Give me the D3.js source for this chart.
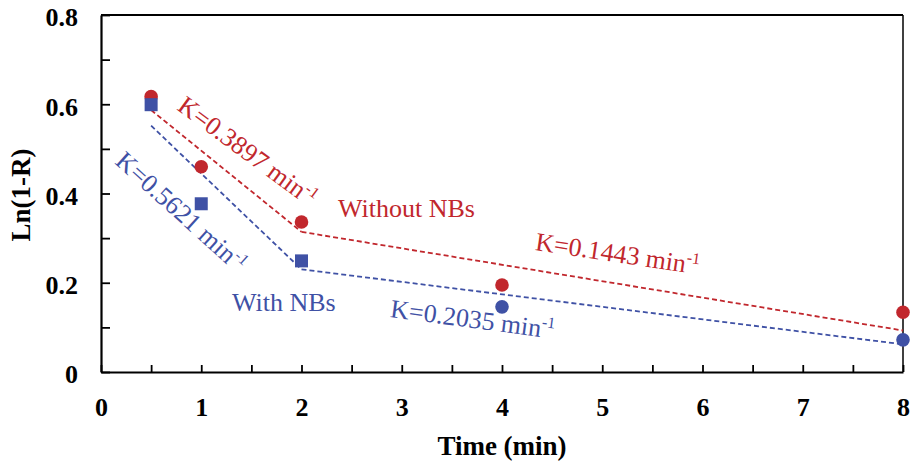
<!DOCTYPE html>
<html>
<head>
<meta charset="utf-8">
<script src="https://cdn.jsdelivr.net/npm/d3@7"></script>
<style>
  html, body { margin: 0; padding: 0; background: #fff; }
  svg { display: block; }
</style>
</head>
<body>
<svg id="chart" width="912" height="465"></svg>
<script>
// ---- data ----
const times = [0.5, 1, 2, 4, 8];
const withoutNBs = [0.617, 0.460, 0.336, 0.195, 0.134];
const withNBs = [0.599, 0.377, 0.249, 0.146, 0.072];
const withNBsShapes = ["square", "square", "square", "circle", "circle"];

const redFit1 = [[0.5, 0.587], [2, 0.314]];
const redFit2 = [[2, 0.314], [8, 0.093]];
const blueFit1 = [[0.5, 0.552], [2, 0.230]];
const blueFit2 = [[2, 0.230], [8, 0.062]];

const xTickValues = [0, 0.5, 1, 1.5, 2, 2.5, 3, 3.5, 4, 4.5, 5, 5.5, 6, 6.5, 7, 7.5, 8];
const xTickLabels = ["0", "1", "2", "3", "4", "5", "6", "7", "8"];
const yTickValues = [0, 0.1, 0.2, 0.3, 0.4, 0.5, 0.6, 0.7, 0.8];
const yTickLabels = ["0", "0.2", "0.4", "0.6", "0.8"];

const RED = "#C1272D";
const BLUE = "#3F51A5";

// ---- layout ----
const svg = d3.select("#chart");
const m = { left: 101, right: 903, top: 15, bottom: 372 };
const x = d3.scaleLinear().domain([0, 8]).range([m.left, m.right]);
const y = d3.scaleLinear().domain([0, 0.8]).range([m.bottom, m.top]);

// frame (top, right)
svg.append("line").attr("x1", m.left).attr("x2", m.right).attr("y1", m.top).attr("y2", m.top)
  .attr("stroke", "#000").attr("stroke-width", 2);
svg.append("line").attr("x1", m.right).attr("x2", m.right).attr("y1", m.top).attr("y2", m.bottom)
  .attr("stroke", "#000").attr("stroke-width", 1.5);

// axes
const fmtX = d => Number.isInteger(d) ? xTickLabels[d] : "";
const fmtY = d => {
  const i = Math.round(d * 10);
  return i % 2 === 0 ? yTickLabels[i / 2] : "";
};

const xAxis = svg.append("g").attr("transform", `translate(0,${m.bottom})`)
  .call(d3.axisBottom(x).tickValues(xTickValues).tickFormat(fmtX)
    .tickSizeInner(-7).tickSizeOuter(0).tickPadding(26));
const yAxis = svg.append("g").attr("transform", `translate(${m.left},0)`)
  .call(d3.axisLeft(y).tickValues(yTickValues).tickFormat(fmtY)
    .tickSizeInner(-9).tickSizeOuter(0).tickPadding(23));

[xAxis, yAxis].forEach(g => {
  g.select(".domain").attr("stroke", "#000").attr("stroke-width", 2.2);
  g.selectAll(".tick line").attr("stroke", "#000").attr("stroke-width", 1.8);
  g.selectAll(".tick text")
    .attr("font-family", "'Liberation Serif', 'Times New Roman', serif")
    .attr("font-weight", "bold").attr("font-size", 26).attr("fill", "#000");
});
yAxis.selectAll(".tick text").attr("dy", "0.42em");

// axis titles
svg.append("text").attr("x", (m.left + m.right) / 2).attr("y", 455)
  .attr("text-anchor", "middle")
  .attr("font-family", "'Liberation Serif', 'Times New Roman', serif")
  .attr("font-weight", "bold").attr("font-size", 27).text("Time (min)");
svg.append("text").attr("transform", "translate(30,195) rotate(-90)")
  .attr("text-anchor", "middle")
  .attr("font-family", "'Liberation Serif', 'Times New Roman', serif")
  .attr("font-weight", "bold").attr("font-size", 27).text("Ln(1-R)");

// fit lines
const line = d3.line().x(d => x(d[0])).y(d => y(d[1]));
[[redFit1, RED], [redFit2, RED], [blueFit1, BLUE], [blueFit2, BLUE]].forEach(([pts, c]) => {
  svg.append("path").attr("d", line(pts)).attr("fill", "none")
    .attr("stroke", c).attr("stroke-width", 1.8).attr("stroke-dasharray", "5,3");
});

// markers: red first, then blue on top
svg.append("g").selectAll("circle").data(times.map((t, i) => [t, withoutNBs[i]]))
  .join("circle").attr("cx", d => x(d[0])).attr("cy", d => y(d[1])).attr("r", 6.8).attr("fill", RED);

const blueData = times.map((t, i) => ({ t, v: withNBs[i], s: withNBsShapes[i] }));
const gB = svg.append("g");
gB.selectAll("rect").data(blueData.filter(d => d.s === "square")).join("rect")
  .attr("x", d => x(d.t) - 6.5).attr("y", d => y(d.v) - 6.5)
  .attr("width", 13).attr("height", 13).attr("fill", BLUE);
gB.selectAll("circle").data(blueData.filter(d => d.s === "circle")).join("circle")
  .attr("cx", d => x(d.t)).attr("cy", d => y(d.v)).attr("r", 6.8).attr("fill", BLUE);

// annotations
function kLabel(px, py, angle, color, main) {
  const t = svg.append("text").attr("transform", `translate(${px},${py}) rotate(${angle})`)
    .attr("font-family", "'Liberation Serif', 'Times New Roman', serif")
    .attr("font-size", 26).attr("fill", color);
  t.append("tspan").text(main);
  t.append("tspan").attr("font-size", 16).attr("dy", -10).text("-1");
}
kLabel(176, 109, 36.5, RED, "K=0.3897 min");
kLabel(114, 163, 42, BLUE, "K=0.5621 min");
kLabel(389.5, 317, 7.5, BLUE, "K=0.2035 min");
kLabel(534.5, 250, 8.5, RED, "K=0.1443 min");

svg.append("text").attr("x", 338).attr("y", 216.5)
  .attr("font-family", "'Liberation Serif', 'Times New Roman', serif")
  .attr("font-size", 26).attr("fill", RED).text("Without NBs");
svg.append("text").attr("x", 232).attr("y", 311)
  .attr("font-family", "'Liberation Serif', 'Times New Roman', serif")
  .attr("font-size", 26).attr("fill", BLUE).text("With NBs");
</script>
</body>
</html>
